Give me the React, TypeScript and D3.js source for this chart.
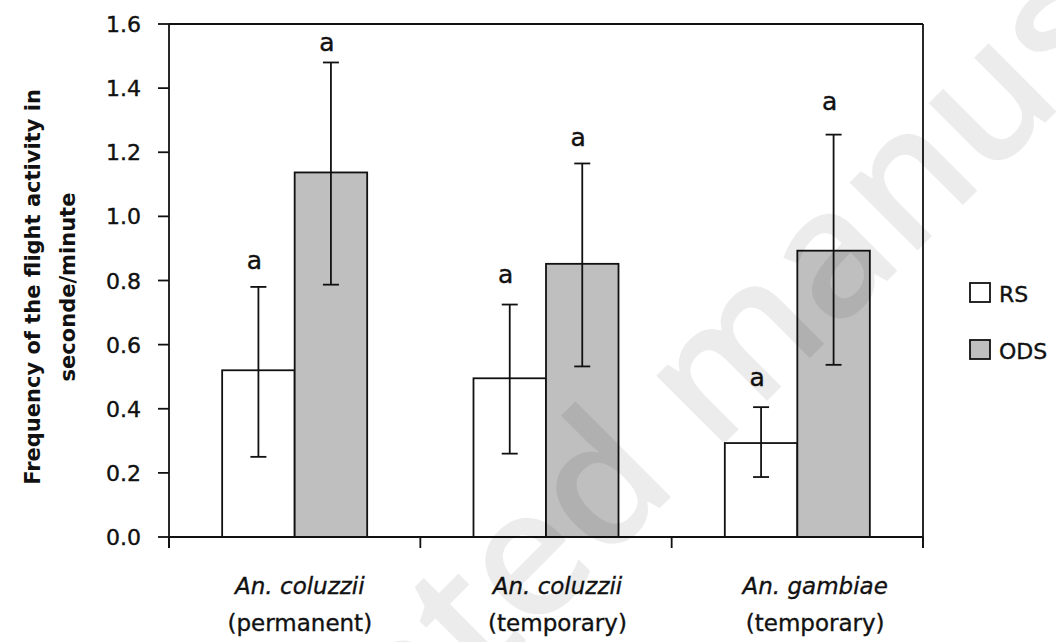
import React from "react";
import * as d3 from "d3";

const categories = ["coluzzii-perm", "coluzzii-temp", "gambiae-temp"];
const speciesLabels = ["An. coluzzii", "An. coluzzii", "An. gambiae"];
const habitatLabels = ["(permanent)", "(temporary)", "(temporary)"];
const series = ["RS", "ODS"];
const seriesFill = ["#ffffff", "#bfbfbf"];

const rsMean = [0.52, 0.495, 0.293];
const rsLow = [0.25, 0.26, 0.187];
const rsHigh = [0.78, 0.725, 0.405];
const odsMean = [1.137, 0.852, 0.893];
const odsLow = [0.787, 0.532, 0.537];
const odsHigh = [1.48, 1.165, 1.255];

// significance letters and the height (in data units) where their baseline sits
const rsLetters = ["a", "a", "a"];
const odsLetters = ["a", "a", "a"];
const rsLetterY = [0.836, 0.792, 0.471];
const odsLetterY = [1.516, 1.218, 1.333];

const yTicks = [0, 0.2, 0.4, 0.6, 0.8, 1.0, 1.2, 1.4, 1.6];

const W = 1056;
const H = 642;
const plot = { left: 169, right: 923, top: 24, bottom: 537 };
const font = "'DejaVu Sans', Verdana, sans-serif";
const ink = "#111";

export default function App() {
  const y = d3.scaleLinear().domain([0, 1.6]).range([plot.bottom, plot.top]);
  const x0 = d3.scaleBand<string>().domain(categories).range([plot.left, plot.right]);
  const x1 = d3
    .scaleBand<string>()
    .domain(series)
    .range([0, x0.bandwidth()])
    .paddingInner(0)
    .paddingOuter(0.733);
  const labelX = d3.scaleBand<string>().domain(categories).range([171, 944]);

  const means = [rsMean, odsMean];
  const lows = [rsLow, odsLow];
  const highs = [rsHigh, odsHigh];
  const letters = [rsLetters, odsLetters];
  const letterY = [rsLetterY, odsLetterY];
  const boundaries = [...categories.map((c) => x0(c)!), plot.right];
  const line = d3.line();
  const capHalf = 8;

  return (
    <svg
      width={W}
      height={H}
      style={{ position: "absolute", left: 0, top: 0, background: "#fff" }}
      fontFamily={font}
    >
      {/* bars */}
      {categories.map((c, i) =>
        series.map((s, k) => (
          <rect
            key={c + s}
            x={x0(c)! + x1(s)!}
            y={y(means[k][i])}
            width={x1.bandwidth()}
            height={y(0) - y(means[k][i])}
            fill={seriesFill[k]}
            stroke={ink}
            strokeWidth={1.8}
          />
        ))
      )}

      {/* error bars */}
      {categories.map((c, i) =>
        series.map((s, k) => {
          const cx = x0(c)! + x1(s)! + x1.bandwidth() / 2;
          const lo = y(lows[k][i]);
          const hi = y(highs[k][i]);
          return (
            <g key={"e" + c + s} stroke={ink} strokeWidth={1.8} fill="none">
              <path d={line([[cx, lo], [cx, hi]])!} />
              <path d={line([[cx - capHalf, hi], [cx + capHalf, hi]])!} />
              <path d={line([[cx - capHalf, lo], [cx + capHalf, lo]])!} />
            </g>
          );
        })
      )}

      {/* significance letters */}
      {categories.map((c, i) =>
        series.map((s, k) => (
          <text
            key={"l" + c + s}
            x={x0(c)! + x1(s)! + x1.bandwidth() / 2 - 4}
            y={y(letterY[k][i])}
            textAnchor="middle"
            fontSize={25}
            fill={ink}
            stroke={ink}
            strokeWidth={0.4}
          >
            {letters[k][i]}
          </text>
        ))
      )}

      {/* frame */}
      <g stroke={ink} strokeWidth={1.8} fill="none">
        <path d={line([[plot.left, plot.top], [plot.right, plot.top]])!} />
        <path d={line([[plot.right, plot.top], [plot.right, plot.bottom + 11]])!} />
        <path d={line([[plot.left, plot.top], [plot.left, plot.bottom + 11]])!} />
        <path d={line([[plot.left, plot.bottom], [plot.right, plot.bottom]])!} />
        {yTicks.map((t) => (
          <path key={"yt" + t} d={line([[plot.left - 11, y(t)], [plot.left, y(t)]])!} />
        ))}
        {boundaries.map((b, i) => (
          <path key={"xt" + i} d={line([[b, plot.bottom], [b, plot.bottom + 11]])!} />
        ))}
      </g>

      {/* y tick labels */}
      {yTicks.map((t) => (
        <text
          key={"yl" + t}
          x={141}
          y={y(t) + 8}
          textAnchor="end"
          fontSize={22}
          fill={ink}
          stroke={ink}
          strokeWidth={0.4}
        >
          {d3.format(".1f")(t)}
        </text>
      ))}

      {/* category labels */}
      {categories.map((c, i) => (
        <g key={"c" + c} fontSize={23} textAnchor="middle" fill={ink} stroke={ink} strokeWidth={0.35}>
          <text x={labelX(c)! + labelX.bandwidth() / 2} y={594} fontStyle="italic">
            {speciesLabels[i]}
          </text>
          <text x={labelX(c)! + labelX.bandwidth() / 2} y={631}>
            {habitatLabels[i]}
          </text>
        </g>
      ))}

      {/* y axis title */}
      <g
        transform="translate(0,287) rotate(-90)"
        fontSize={21}
        fontWeight="bold"
        textAnchor="middle"
        fill={ink}
      >
        <text x={0} y={40}>Frequency of the flight activity in</text>
        <text x={0} y={75}>seconde/minute</text>
      </g>

      {/* legend */}
      {series.map((s, k) => (
        <g key={"lg" + s} transform={`translate(970,${283 + k * 57})`}>
          <rect x={0} y={0} width={20} height={19} fill={seriesFill[k]} stroke={ink} strokeWidth={1.8} />
          <text x={29} y={19} fontSize={22} fill={ink} stroke={ink} strokeWidth={0.35}>
            {s}
          </text>
        </g>
      ))}

      {/* watermark */}
      <text
        transform="translate(765,403) rotate(-45)"
        textAnchor="middle"
        fontFamily="'Open Sans', sans-serif"
        fontWeight={600}
        fontSize={178}
        fill="#000"
        fillOpacity={0.075}
      >
        Accepted manuscript
      </text>
    </svg>
  );
}
